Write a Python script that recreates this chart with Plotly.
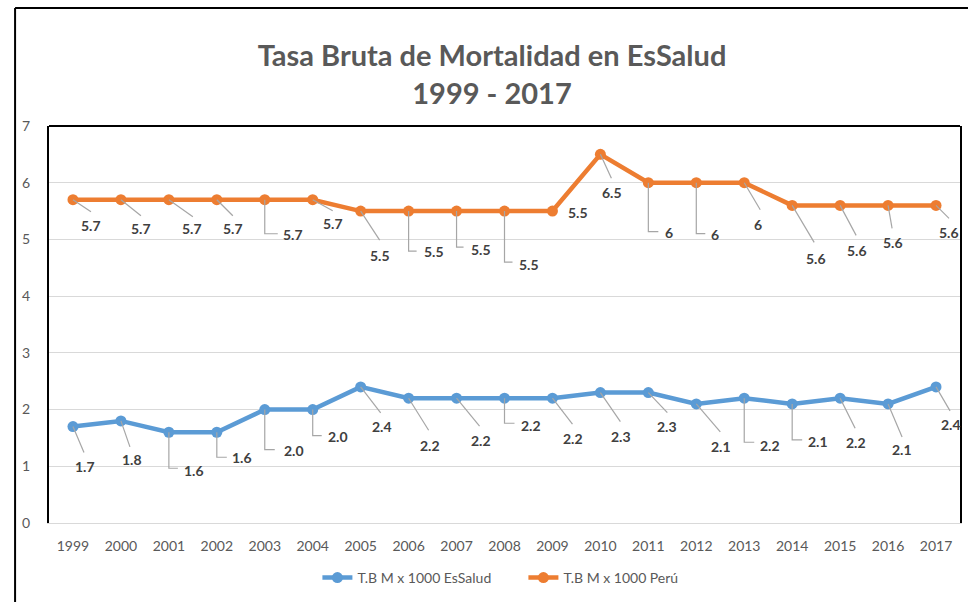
import plotly.graph_objects as go

# ---- data ----
years = [1999, 2000, 2001, 2002, 2003, 2004, 2005, 2006, 2007, 2008,
         2009, 2010, 2011, 2012, 2013, 2014, 2015, 2016, 2017]
essalud = [1.7, 1.8, 1.6, 1.6, 2.0, 2.0, 2.4, 2.2, 2.2, 2.2,
           2.2, 2.3, 2.3, 2.1, 2.2, 2.1, 2.2, 2.1, 2.4]
peru = [5.7, 5.7, 5.7, 5.7, 5.7, 5.7, 5.5, 5.5, 5.5, 5.5,
        5.5, 6.5, 6.0, 6.0, 6.0, 5.6, 5.6, 5.6, 5.6]
essalud_text = ["1.7", "1.8", "1.6", "1.6", "2.0", "2.0", "2.4", "2.2", "2.2", "2.2",
                "2.2", "2.3", "2.3", "2.1", "2.2", "2.1", "2.2", "2.1", "2.4"]
peru_text = ["5.7", "5.7", "5.7", "5.7", "5.7", "5.7", "5.5", "5.5", "5.5", "5.5",
             "5.5", "6.5", "6", "6", "6", "5.6", "5.6", "5.6", "5.6"]
series_names = ["T.B M x 1000 EsSalud", "T.B M x 1000 Perú"]
title_text = "Tasa Bruta de Mortalidad en EsSalud<br>1999 - 2017"

# ---- label placement (pixel offsets from point: label centre, leader path) ----
# leader: None, ("s", ex, ey) straight, ("e", ey, ex) elbow (down then right)
peru_lbl = [(18, 26), (20, 29), (23, 29), (16, 29), (28, 35), (20, 24), (19, 44),
            (25, 40), (24, 38), (24, 53), (26, 1), (12, 38), (21, 50), (19, 52),
            (14, 42), (24, 53), (17, 45), (5, 37), (13, 27)]
peru_lead = [("s", 18, 12), ("s", 20, 16), ("s", 24, 17), ("s", 16, 16), ("e", 34, 13),
             ("s", 20, 11), ("s", 19, 29), ("e", 40, 8), ("e", 36, 7), ("e", 51, 8),
             None, ("s", 11, 24), ("e", 49, 10), ("e", 51, 9), ("s", 16, 27),
             ("s", 22, 37), ("s", 16, 30), ("s", 4, 23), ("s", 13, 13)]
ess_lbl = [(12, 40), (11, 39), (25, 38), (25, 25), (29, 41), (25, 27), (21, 40),
           (21, 47), (24, 42), (26, 27), (21, 40), (21, 44), (19, 34), (25, 43),
           (26, 47), (26, 38), (16, 44), (14, 46), (15, 38)]
ess_lead = [("s", 11, 26), ("s", 9, 26), ("e", 36, 9), ("e", 25, 10), ("e", 40, 10),
            ("e", 26, 9), ("s", 20, 26), ("s", 20, 32), ("s", 23, 28), ("e", 25, 10),
            ("s", 20, 26), ("s", 20, 29), ("s", 19, 20), ("s", 24, 28), ("e", 44, 10),
            ("e", 36, 10), ("s", 15, 30), ("s", 14, 33), ("s", 14, 24)]

BLUE = "#5B9BD5"
ORANGE = "#ED7D31"
FONT = "Lato"

fig = go.Figure()
fig.add_trace(go.Scatter(x=years, y=essalud, name=series_names[0], mode="lines+markers",
                         line=dict(color=BLUE, width=4.5), marker=dict(size=11, color=BLUE)))
fig.add_trace(go.Scatter(x=years, y=peru, name=series_names[1], mode="lines+markers",
                         line=dict(color=ORANGE, width=4.5), marker=dict(size=11, color=ORANGE)))

annotations = []
shapes = []
for xs, ys, txt, lbl, lead in [(years, essalud, essalud_text, ess_lbl, ess_lead),
                               (years, peru, peru_text, peru_lbl, peru_lead)]:
    for x, y, t, (dx, dy), ld in zip(xs, ys, txt, lbl, lead):
        annotations.append(dict(x=x, y=y, xref="x", yref="y", text=t, showarrow=False,
                                xshift=dx, yshift=-dy,
                                font=dict(family=FONT, size=14, color="#404040", weight="bold")))
        if ld is None:
            continue
        if ld[0] == "s":
            path = f"M0,0 L{ld[1]},{-ld[2]}"
        else:
            path = f"M0,0 L0,{-ld[1]} L{ld[2]},{-ld[1]}"
        shapes.append(dict(type="path", xref="x", yref="y", xsizemode="pixel", ysizemode="pixel",
                           xanchor=x, yanchor=y, path=path,
                           line=dict(color="#A6A6A6", width=1.2)))

# frame lines
W, H = 913.0, 397.0
def px(v):
    return (v - 49) / W
def py(v):
    return (523 - v) / H
shapes.append(dict(type="line", xref="paper", yref="paper", x0=px(15), x1=px(15),
                   y0=py(602), y1=py(8), line=dict(color="black", width=2)))
shapes.append(dict(type="line", xref="paper", yref="paper", x0=px(15), x1=px(970),
                   y0=py(8), y1=py(8), line=dict(color="black", width=2)))
shapes.append(dict(type="line", xref="paper", yref="paper", x0=0, x1=1,
                   y0=1, y1=1, line=dict(color="black", width=2)))

fig.update_layout(
    width=969, height=602,
    margin=dict(l=49, r=7, t=126, b=79),
    paper_bgcolor="white", plot_bgcolor="white",
    font=dict(family=FONT, color="#595959"),
    title=dict(text=title_text, x=492 / 969, xanchor="center", xref="container",
               y=1 - 66 / 602, yanchor="middle", yref="container",
               font=dict(family=FONT, size=29, color="#595959", weight="bold")),
    xaxis=dict(range=[1998.5, 2017.5], tickvals=years, ticktext=[str(y) for y in years],
               showgrid=False, zeroline=False, showline=True, linecolor="#D9D9D9", linewidth=1,
               ticks="", tickfont=dict(size=14, color="#595959"), ticklabelstandoff=10),
    yaxis=dict(range=[0, 7], dtick=1, showgrid=True, gridcolor="#D9D9D9", gridwidth=1,
               zeroline=False, showline=True, linecolor="black", linewidth=2, mirror=True,
               ticks="", tickfont=dict(size=14, color="#595959"), ticklabelstandoff=14),
    legend=dict(orientation="h", x=px(318), xanchor="left", y=py(578), yanchor="middle",
                entrywidth=161, entrywidthmode="pixels",
                font=dict(size=14, color="#595959"), bgcolor="rgba(0,0,0,0)"),
    annotations=annotations,
    shapes=shapes,
)

fig.write_html("out.html", config={"displayModeBar": False},
               post_script="document.body.style.margin='0';document.body.style.padding='0';")
